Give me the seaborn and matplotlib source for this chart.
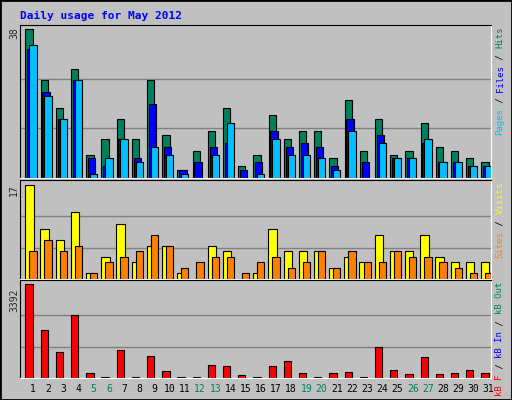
import numpy as np
import matplotlib
matplotlib.use("Agg")
import matplotlib.pyplot as plt
import seaborn as sns

days = list(range(1, 32))
hits = [38, 25, 18, 28, 6, 10, 15, 10, 25, 11, 2, 7, 12, 18, 3, 6, 16, 10, 12, 12, 5, 20, 7, 15, 6, 7, 14, 8, 7, 5, 4]
files = [33, 22, 15, 25, 5, 3, 10, 5, 19, 8, 2, 4, 8, 9, 2, 4, 12, 8, 9, 8, 3, 15, 4, 11, 5, 5, 9, 4, 4, 3, 3]
pages = [34, 21, 15, 25, 1, 5, 10, 4, 8, 6, 1, 0, 6, 14, 0, 1, 10, 6, 6, 5, 2, 12, 0, 9, 5, 5, 10, 4, 4, 3, 3]
visits = [17, 9, 7, 12, 1, 4, 10, 3, 6, 6, 1, 0, 6, 5, 0, 1, 9, 5, 5, 5, 2, 4, 3, 8, 5, 5, 8, 4, 3, 3, 3]
sites = [5, 7, 5, 6, 1, 3, 4, 5, 8, 6, 2, 3, 4, 4, 1, 3, 4, 2, 3, 5, 2, 5, 3, 3, 5, 4, 4, 3, 2, 1, 1]
kbytes = [3392, 1715, 932, 2274, 186, 37, 1006, 37, 783, 261, 37, 37, 485, 447, 112, 37, 447, 596,
          186, 37, 186, 224, 37, 1118, 298, 149, 745, 149, 186, 298, 186]
weekend = [5, 6, 12, 13, 19, 20, 26, 27]

sns.set_style("white")
plt.rcParams["font.family"] = ["DejaVu Sans Mono"]

BG = "#C0C0C0"
W, H = 512, 400
fig = plt.figure(figsize=(W / 100, H / 100), dpi=100, facecolor=BG)
fig.patches.append(plt.Rectangle((0, 0), 1, 1, transform=fig.transFigure, fill=False,
                                 edgecolor="black", linewidth=2))

fig.text(20 / W, 1 - 16 / H, "Daily usage for May 2012", color="#0000FF",
         fontsize=8, fontweight="bold", va="center", ha="left")


def panel(top, bottom):
    ax = fig.add_axes([20 / W, 1 - bottom / H, 471 / W, (bottom - top) / H])
    ax.set_facecolor(BG)
    ax.set_xlim(0.5, 31.5)
    ax.set_xticks([])
    ax.set_yticks([])
    for s in ["top", "left"]:
        ax.spines[s].set_color("black")
    for s in ["bottom", "right"]:
        ax.spines[s].set_color("white")
    return ax


def right_label(top, parts):
    cw = 0.6 * 6.5 * 100 / 72
    y = top + 2
    for txt, col in reversed(parts):
        fig.text(500 / W, 1 - y / H, txt, color=col, fontsize=6.5, rotation=90,
                 ha="center", va="top")
        y += cw * len(txt)


days_a = np.array(days)
kw = dict(edgecolor="black", linewidth=0.8)

# top panel
ax1 = panel(25, 178)
ax1.set_ylim(0, 38 * 1.03)
for g in (38 / 3, 2 * 38 / 3):
    ax1.axhline(g, color="#808080", lw=1, zorder=0)
ax1.bar(days_a + 0.1, hits, width=0.48, color="#00805C", **kw)
ax1.bar(days_a + 0.22, files, width=0.48, color="#0000FF", **kw)
ax1.bar(days_a + 0.35, pages, width=0.48, color="#00C0FF", **kw)
fig.text(14 / W, 1 - 33 / H, "38", rotation=90, fontsize=7, ha="center", va="center")
right_label(25, [("Pages", "#00C0FF"), (" / ", "black"), ("Files", "#0000FF"),
                 (" / ", "black"), ("Hits", "#00805C")])

# middle panel
ax2 = panel(180, 279)
ax2.set_ylim(0, 17 * 1.05)
for g in (17 / 3, 2 * 17 / 3):
    ax2.axhline(g, color="#808080", lw=1, zorder=0)
ax2.bar(days_a + 0.12, visits, width=0.55, color="#FFFF00", **kw)
ax2.bar(days_a + 0.35, sites, width=0.48, color="#FF8000", **kw)
fig.text(14 / W, 1 - 190 / H, "17", rotation=90, fontsize=7, ha="center", va="center")
right_label(180, [("Sites", "#FF8000"), (" / ", "black"), ("Visits", "#FFFF00")])

# bottom panel
ax3 = panel(280, 378)
ax3.set_ylim(0, 3392 * 1.04)
for g in (3392 / 3, 2 * 3392 / 3):
    ax3.axhline(g, color="#808080", lw=1, zorder=0)
ax3.bar(days_a + 0.1, kbytes, width=0.48, color="#FF0000", **kw)
fig.text(14 / W, 1 - 300 / H, "3392", rotation=90, fontsize=7, ha="center", va="center")
right_label(280, [("kB F", "#FF0000"), (" / ", "black"), ("kB In", "#0000FF"),
                  (" / ", "black"), ("kB Out", "#00805C")])

for d in days:
    col = "#00805C" if d in weekend else "black"
    xf = (20 + 471 * (d + 0.35 - 0.5) / 31) / W
    fig.text(xf, 1 - 389 / H, str(d), color=col, fontsize=7, ha="center", va="center")

fig.savefig("out.png", dpi=100, facecolor=BG)
